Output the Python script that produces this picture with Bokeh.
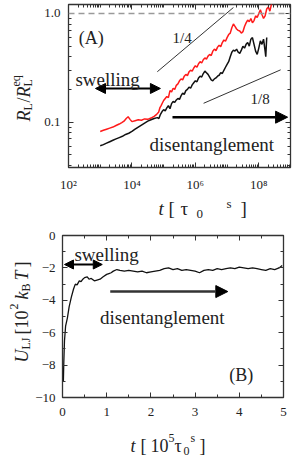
import numpy as np
from bokeh.plotting import figure
from bokeh.layouts import column, row
from bokeh.models import (FixedTicker, LogAxis, LinearAxis, Label, Arrow, NormalHead,
                          Span, Range1d, ColumnDataSource)
from bokeh.embed import file_html
from bokeh.resources import INLINE

SERIF = "Liberation Serif"

# ---------------- Panel A data (log-log) ----------------
red_exp = [3.00, 3.10, 3.20, 3.30, 3.40, 3.50, 3.60, 3.68, 3.75, 3.82, 3.88, 3.94, 4.00, 4.10,
           4.20, 4.30, 4.40, 4.50, 4.60, 4.70, 4.78, 4.84, 4.88, 4.92, 4.96, 5.00, 5.05, 5.10,
           5.15, 5.20, 5.25, 5.30, 5.35, 5.40, 5.45, 5.50, 5.55, 5.60, 5.65, 5.70, 5.75, 5.80,
           5.85, 5.90, 5.95, 6.00, 6.05, 6.10, 6.15, 6.20, 6.25, 6.30, 6.35, 6.40, 6.45, 6.50,
           6.55, 6.60, 6.65, 6.70, 6.75, 6.80, 6.85, 6.90, 6.95, 7.00, 7.05, 7.10, 7.15, 7.20,
           7.25, 7.30, 7.35, 7.40, 7.45, 7.50, 7.55, 7.60, 7.65, 7.70, 7.75, 7.80, 7.85, 7.90,
           7.95, 8.00, 8.05, 8.10, 8.15, 8.20, 8.25, 8.30, 8.35, 8.40, 8.43]
red_ratio = [0.082, 0.084, 0.086, 0.088, 0.090, 0.093, 0.096, 0.099, 0.102, 0.108, 0.112, 0.106,
             0.101, 0.103, 0.105, 0.104, 0.107, 0.106, 0.109, 0.113, 0.118, 0.123, 0.135, 0.142,
             0.150, 0.158, 0.165, 0.172, 0.168, 0.195, 0.190, 0.205, 0.200, 0.218, 0.225, 0.240,
             0.250, 0.245, 0.265, 0.275, 0.268, 0.290, 0.300, 0.295, 0.315, 0.330, 0.320, 0.345,
             0.360, 0.350, 0.375, 0.390, 0.380, 0.405, 0.420, 0.410, 0.450, 0.470, 0.455, 0.490,
             0.510, 0.495, 0.540, 0.570, 0.555, 0.600, 0.640, 0.660, 0.740, 0.800, 0.760, 0.720,
             0.700, 0.690, 0.660, 0.680, 0.760, 0.820, 0.870, 0.840, 0.900, 0.820, 0.860, 0.950,
             0.920, 1.000, 1.080, 0.980, 0.900, 0.950, 1.100, 1.150, 1.050, 1.220, 1.300]

black_exp = [3.00, 3.10, 3.20, 3.30, 3.40, 3.50, 3.60, 3.70, 3.80, 3.90, 4.00, 4.10, 4.20, 4.30,
             4.40, 4.50, 4.60, 4.70, 4.80, 4.85, 4.90, 4.95, 5.00, 5.05, 5.10, 5.15, 5.20, 5.25,
             5.30, 5.35, 5.40, 5.45, 5.50, 5.55, 5.60, 5.65, 5.70, 5.75, 5.80, 5.85, 5.90, 5.95,
             6.00, 6.05, 6.10, 6.15, 6.20, 6.25, 6.30, 6.35, 6.40, 6.45, 6.50, 6.55, 6.60, 6.65,
             6.70, 6.75, 6.80, 6.85, 6.90, 6.95, 7.00, 7.05, 7.10, 7.15, 7.20, 7.25, 7.30, 7.35,
             7.40, 7.45, 7.50, 7.55, 7.60, 7.65, 7.70, 7.75, 7.80, 7.85, 7.90, 7.95, 8.00, 8.05,
             8.10, 8.15, 8.20, 8.22, 8.25]
black_ratio = [0.0605, 0.062, 0.064, 0.066, 0.068, 0.070, 0.072, 0.074, 0.077, 0.079, 0.082,
               0.086, 0.090, 0.094, 0.098, 0.102, 0.105, 0.108, 0.110, 0.108, 0.118, 0.125,
               0.130, 0.127, 0.135, 0.142, 0.133, 0.148, 0.155, 0.152, 0.160, 0.165, 0.162,
               0.175, 0.185, 0.180, 0.195, 0.200, 0.210, 0.205, 0.220, 0.230, 0.240, 0.235,
               0.255, 0.265, 0.260, 0.280, 0.295, 0.285, 0.275, 0.260, 0.245, 0.240, 0.250,
               0.255, 0.265, 0.270, 0.285, 0.280, 0.300, 0.320, 0.340, 0.360, 0.400, 0.440,
               0.460, 0.450, 0.470, 0.440, 0.430, 0.460, 0.500, 0.480, 0.520, 0.540, 0.500,
               0.580, 0.600, 0.520, 0.450, 0.420, 0.480, 0.560, 0.520, 0.580, 0.450, 0.400, 0.600]

quarter_exp = [4.8, 7.2]
quarter_ratio = [0.291, 1.135]
eighth_exp = [6.26, 8.69]
eighth_ratio = [0.149, 0.303]
eq_level = 1.0

x_major_A = [1e2, 1e4, 1e6, 1e8]
x_major_labels_A = ["10²", "10⁴", "10⁶", "10⁸"]
y_major_A = [0.1, 1.0]
y_major_labels_A = ["0.1", "1.0"]

swell_A_t = [7.1e2, 7.9e4]
swell_A_r = 0.204
dis_A_t = [1.9e5, 8.1e8]
dis_A_r = 0.111

# ---------------- Panel B data ----------------
u_time = [0.02, 0.03, 0.045, 0.07, 0.11, 0.15, 0.20, 0.25, 0.29, 0.33, 0.38, 0.42, 0.46, 0.50,
          0.56, 0.60, 0.65, 0.72, 0.78, 0.85, 0.92, 1.00, 1.05, 1.10, 1.15, 1.23, 1.30, 1.40,
          1.50, 1.60, 1.70, 1.80, 1.90, 2.00, 2.10, 2.20, 2.30, 2.40, 2.50, 2.60, 2.70, 2.80,
          2.90, 3.00, 3.10, 3.20, 3.30, 3.40, 3.50, 3.60, 3.70, 3.80, 3.90, 4.00, 4.10, 4.20,
          4.30, 4.40, 4.50, 4.60, 4.70, 4.80, 4.90, 4.97]
u_energy = [-9.0, -7.8, -6.5, -5.6, -5.1, -4.4, -3.8, -3.3, -3.0, -3.05, -2.8, -2.85, -2.7, -2.6,
            -2.55, -2.7, -2.65, -2.8, -2.75, -2.7, -2.55, -2.4, -2.35, -2.3, -2.2, -2.1, -2.15,
            -2.2, -2.15, -2.2, -2.25, -2.2, -2.3, -2.25, -2.2, -2.15, -2.05, -2.0, -2.1, -2.05,
            -2.15, -2.1, -2.15, -2.2, -2.3, -2.15, -2.1, -2.15, -2.05, -2.1, -2.05, -2.0, -2.05,
            -1.95, -2.0, -2.05, -2.0, -2.05, -2.1, -2.15, -2.05, -2.1, -2.0, -1.85]

swell_B_t = [0.045, 0.9]
swell_B_u = -1.79
dis_B_t = [1.08, 3.74]
dis_B_u = -3.46

TXT = "#222222"


def style_axis(ax, size="13px", standoff=8):
    ax.major_label_text_font = SERIF
    ax.major_label_text_font_size = size
    ax.major_label_text_color = TXT
    ax.major_label_standoff = standoff
    ax.major_tick_in = 5
    ax.major_tick_out = 0
    ax.minor_tick_in = 3
    ax.minor_tick_out = 0
    ax.axis_line_color = None
    ax.major_tick_line_color = "#333333"
    ax.minor_tick_line_color = "#333333"


def mirror(ax):
    ax.major_label_text_font_size = "1px"
    ax.major_label_text_alpha = 0
    ax.major_label_standoff = 0
    ax.major_tick_in = 5
    ax.major_tick_out = 0
    ax.minor_tick_in = 3
    ax.minor_tick_out = 0
    ax.axis_line_color = None
    ax.major_tick_line_color = "#333333"
    ax.minor_tick_line_color = "#333333"


def lab(p, x, y, text, size="18px", style="normal", angle=0.0):
    p.add_layout(Label(x=x, y=y, x_units="screen", y_units="screen", text=text,
                       text_font=SERIF, text_font_size=size, text_font_style=style,
                       text_color=TXT, angle=angle, text_align="left",
                       text_baseline="alphabetic"))


def dlab(p, x, y, text, size="19px"):
    p.add_layout(Label(x=x, y=y, text=text, text_font=SERIF, text_font_size=size,
                       text_color=TXT, text_align="left", text_baseline="alphabetic"))


def carrier(w, h):
    c = figure(width=w, height=h, x_range=Range1d(0, 1), y_range=Range1d(0, 1),
               min_border=0, x_axis_location=None, y_axis_location=None,
               output_backend="svg", toolbar_location=None)
    c.outline_line_color = None
    c.xgrid.visible = False
    c.ygrid.visible = False
    return c


# ---------------- Panel A ----------------
pA = figure(width=257, height=194, x_axis_type="log", y_axis_type="log",
            x_range=Range1d(1e2, 1.0e9), y_range=Range1d(0.0382, 1.21),
            output_backend="svg", toolbar_location=None,
            min_border_left=28, min_border_right=7, min_border_top=4, min_border_bottom=25)
pA.xgrid.visible = False
pA.ygrid.visible = False
pA.outline_line_color = "#333333"
pA.outline_line_width = 1.3

x_minor_A = [m * 10.0 ** k for k in range(2, 9) for m in range(1, 10)]
y_minor_A = [m * 10.0 ** k for k in (-2, -1) for m in range(1, 10)]
pA.xaxis.ticker = FixedTicker(ticks=x_major_A, minor_ticks=x_minor_A)
pA.yaxis.ticker = FixedTicker(ticks=y_major_A, minor_ticks=y_minor_A)
pA.xaxis.major_label_overrides = dict(zip(x_major_A, x_major_labels_A))
pA.yaxis.major_label_overrides = dict(zip(y_major_A, y_major_labels_A))
style_axis(pA.xaxis[0], standoff=9)
style_axis(pA.yaxis[0], standoff=8)

topA = LogAxis(ticker=FixedTicker(ticks=x_major_A, minor_ticks=x_minor_A))
mirror(topA)
pA.add_layout(topA, "above")
rightA = LogAxis(ticker=FixedTicker(ticks=y_major_A, minor_ticks=y_minor_A))
mirror(rightA)
pA.add_layout(rightA, "right")

pA.add_layout(Span(location=eq_level, dimension="width", line_color="#9a9a9a",
                   line_dash="6 4", line_width=1.5))

srcR = ColumnDataSource(dict(t=[10.0 ** e for e in red_exp], r=red_ratio))
srcK = ColumnDataSource(dict(t=[10.0 ** e for e in black_exp], r=black_ratio))
pA.line("t", "r", source=srcR, line_color="#ff1a1a", line_width=1.5)
pA.line("t", "r", source=srcK, line_color="#111111", line_width=1.5)
pA.line([10.0 ** e for e in quarter_exp], quarter_ratio, line_color="#333333", line_width=1)
pA.line([10.0 ** e for e in eighth_exp], eighth_ratio, line_color="#333333", line_width=1)

pA.add_layout(Arrow(start=NormalHead(size=10, fill_color="black", line_color="black"),
                    end=NormalHead(size=10, fill_color="black", line_color="black"),
                    x_start=swell_A_t[0], y_start=swell_A_r, x_end=swell_A_t[1], y_end=swell_A_r,
                    line_width=2, line_color="black"))
pA.add_layout(Arrow(end=NormalHead(size=12, fill_color="black", line_color="black"),
                    x_start=dis_A_t[0], y_start=dis_A_r, x_end=dis_A_t[1], y_end=dis_A_r,
                    line_width=2.5, line_color="black"))

dlab(pA, 2.1e2, 0.60, "(A)", size="18px")
dlab(pA, 1.66e2, 0.246, "swelling")
dlab(pA, 3.6e4, 0.0618, "disentanglement")
dlab(pA, 1.9e5, 0.59, "1/4", size="15px")
dlab(pA, 5.5e7, 0.162, "1/8", size="15px")

# y label of panel A (frame of this carrier is aligned with panel A's frame)
up = np.pi / 2
yA = carrier(40, 194)
lab(yA, 23, 46, "R", style="italic", angle=up)
lab(yA, 27, 57, "L", size="12px", angle=up)
lab(yA, 23, 65, "/", angle=up)
lab(yA, 23, 70, "R", style="italic", angle=up)
lab(yA, 27, 81, "L", size="12px", angle=up)
lab(yA, 15, 81, "eq", size="12px", angle=up)

midA = carrier(297, 31)
lab(midA, 158, 17, "t", size="19px", style="italic")
lab(midA, 168, 17, "[", size="19px")
lab(midA, 180, 17, "τ", size="19px")
lab(midA, 196, 12, "0", size="13px")
lab(midA, 226, 22, "s", size="13px")
lab(midA, 240, 17, "]", size="19px")

# ---------------- Panel B ----------------
pB = figure(width=265, height=203, x_range=Range1d(0, 5), y_range=Range1d(-10, 0),
            output_backend="svg", toolbar_location=None,
            min_border_left=28, min_border_right=14, min_border_top=10, min_border_bottom=31)
pB.xgrid.visible = False
pB.ygrid.visible = False
pB.outline_line_color = "#333333"
pB.outline_line_width = 1.3

x_major_B = [0, 1, 2, 3, 4, 5]
y_major_B = [-10, -8, -6, -4, -2, 0]
x_minor_B = [0.5, 1.5, 2.5, 3.5, 4.5]
y_minor_B = [-9, -7, -5, -3, -1]
pB.xaxis.ticker = FixedTicker(ticks=x_major_B, minor_ticks=x_minor_B)
pB.yaxis.ticker = FixedTicker(ticks=y_major_B, minor_ticks=y_minor_B)
style_axis(pB.xaxis[0], standoff=10)
style_axis(pB.yaxis[0], standoff=7)

topB = LinearAxis(ticker=FixedTicker(ticks=x_major_B, minor_ticks=x_minor_B))
mirror(topB)
pB.add_layout(topB, "above")
rightB = LinearAxis(ticker=FixedTicker(ticks=y_major_B, minor_ticks=y_minor_B))
mirror(rightB)
pB.add_layout(rightB, "right")

pB.line(u_time, u_energy, line_color="#111111", line_width=1.3)

pB.add_layout(Arrow(start=NormalHead(size=9, fill_color="black", line_color="black"),
                    end=NormalHead(size=9, fill_color="black", line_color="black"),
                    x_start=swell_B_t[0], y_start=swell_B_u, x_end=swell_B_t[1], y_end=swell_B_u,
                    line_width=2, line_color="black"))
pB.add_layout(Arrow(end=NormalHead(size=12, fill_color="black", line_color="black"),
                    x_start=dis_B_t[0], y_start=dis_B_u, x_end=dis_B_t[1], y_end=dis_B_u,
                    line_width=2.5, line_color="#333333"))

dlab(pB, 0.27, -1.17, "swelling")
dlab(pB, 0.85, -5.06, "disentanglement")
dlab(pB, 3.77, -8.64, "(B)", size="18px")

# y label of panel B (frame of this carrier is aligned with panel B's frame)
yB = carrier(32, 203)
lab(yB, 21, 35, "U", style="italic", angle=up)
lab(yB, 25, 48, "LJ", size="12px", angle=up)
lab(yB, 21, 63, "[", angle=up)
lab(yB, 21, 69, "10", angle=up)
lab(yB, 13, 88, "2", size="12px", angle=up)
lab(yB, 21, 98, "k", style="italic", angle=up)
lab(yB, 25, 106, "B", size="12px", angle=up)
lab(yB, 21, 117, "T", style="italic", angle=up)
lab(yB, 21, 130, "]", angle=up)

botB = carrier(297, 31)
lab(botB, 130, 14, "t", style="italic")
lab(botB, 140, 14, "[")
lab(botB, 150, 14, "10")
lab(botB, 168, 22, "5", size="12px")
lab(botB, 174, 14, "τ")
lab(botB, 183, 9, "0", size="12px")
lab(botB, 190, 22, "s", size="12px")
lab(botB, 199, 14, "]")

layout = column(row(yA, pA), midA, row(yB, pB), botB)
open("out.html", "w").write(file_html(layout, INLINE))
